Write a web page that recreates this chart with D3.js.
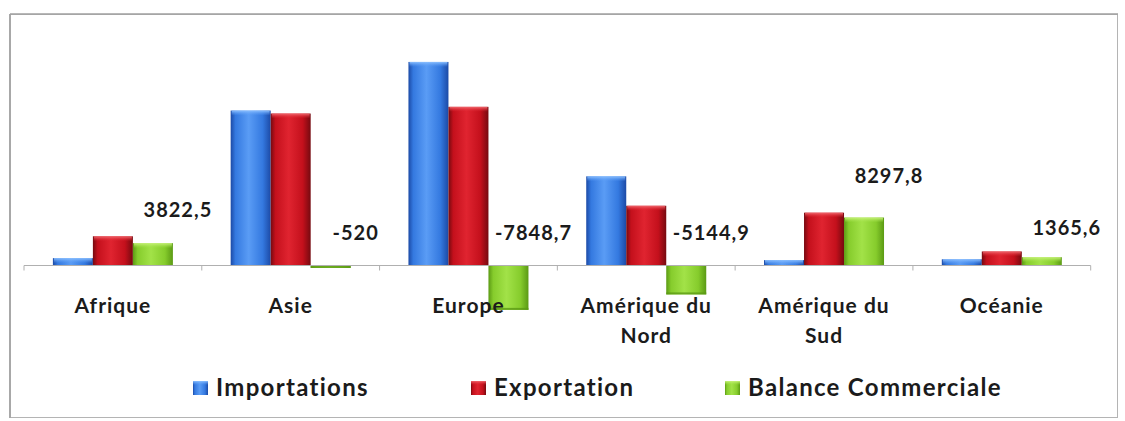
<!DOCTYPE html>
<html>
<head>
<meta charset="utf-8">
<script src="https://cdn.jsdelivr.net/npm/d3@7"></script>
<style>
  html, body { margin: 0; padding: 0; background: #fff; }
  svg { display: block; }
  text { font-family: Lato, "Open Sans", "DejaVu Sans", sans-serif; fill: #1b1b1b; }
</style>
</head>
<body>
<svg id="chart" width="1125" height="421"></svg>
<script>
// Regions and trade flows
const categories = ["Afrique", "Asie", "Europe", "Amérique du Nord", "Amérique du Sud", "Océanie"];
const categoryLines = [["Afrique"], ["Asie"], ["Europe"], ["Amérique du", "Nord"], ["Amérique du", "Sud"], ["Océanie"]];
const seriesNames = ["Importations", "Exportation", "Balance Commerciale"];
const importations = [1200, 27000, 35500, 15500, 850, 1000];
const exportation = [5022.5, 26480, 27651.3, 10355.1, 9147.8, 2365.6];
const balance = [3822.5, -520, -7848.7, -5144.9, 8297.8, 1365.6];
const balanceLabels = ["3822,5", "-520", "-7848,7", "-5144,9", "8297,8", "1365,6"];

const series = [importations, exportation, balance];

const svg = d3.select("#chart");

// colour ramps: edge, body, highlight, cap
const palette = [
  { edge: "#1c4aa6", body: "#3479e0", light: "#5a9cf5", cap: "#8cc0ff" },
  { edge: "#760a10", body: "#c4101c", light: "#e02430", cap: "#f06a70" },
  { edge: "#5b9a14", body: "#86cc2c", light: "#a2e248", cap: "#c8f27c" }
];

const defs = svg.append("defs");
palette.forEach((p, i) => {
  const g = defs.append("linearGradient").attr("id", "bar" + i)
    .attr("x1", "0%").attr("x2", "100%").attr("y1", "0%").attr("y2", "0%");
  g.append("stop").attr("offset", "0%").attr("stop-color", p.edge);
  g.append("stop").attr("offset", "12%").attr("stop-color", p.body);
  g.append("stop").attr("offset", "45%").attr("stop-color", p.light);
  g.append("stop").attr("offset", "80%").attr("stop-color", p.body);
  g.append("stop").attr("offset", "100%").attr("stop-color", p.edge);
  const c = defs.append("linearGradient").attr("id", "cap" + i)
    .attr("x1", "0%").attr("x2", "0%").attr("y1", "0%").attr("y2", "100%");
  c.append("stop").attr("offset", "0%").attr("stop-color", p.cap);
  c.append("stop").attr("offset", "100%").attr("stop-color", p.light).attr("stop-opacity", 0);
});

// chart frame
svg.append("rect").attr("x", 10.5).attr("y", 14.5).attr("width", 1107).attr("height", 403)
  .attr("fill", "#fff").attr("stroke", "#b4b4b4").attr("stroke-width", 1);
svg.append("line").attr("x1", 10).attr("x2", 10).attr("y1", 14).attr("y2", 418)
  .attr("stroke", "#a8a8a8").attr("stroke-width", 2);
svg.append("line").attr("x1", 10).attr("x2", 1118).attr("y1", 14).attr("y2", 14)
  .attr("stroke", "#a0a0a0").attr("stroke-width", 1.5);

// scales
const xEnd = 1090.7;
const x0 = d3.scaleBand().domain(categories).range([24, xEnd])
  .paddingInner(0.325).paddingOuter(0.1625);
const x1 = d3.scaleBand().domain(seriesNames).range([0, x0.bandwidth()]).padding(0);
const y = d3.scaleLinear().domain([-10000, 40000]).range([322.2, 36.2]);
const y0 = y(0);

// bars
const plot = svg.append("g");
series.forEach((vals, si) => {
  const g = plot.append("g");
  vals.forEach((v, ci) => {
    const bx = x0(categories[ci]) + x1(seriesNames[si]);
    const bw = x1.bandwidth();
    const top = Math.min(y(v), y0);
    const h = Math.max(Math.abs(y(v) - y0), 1.5);
    g.append("rect").attr("x", bx).attr("y", top).attr("width", bw).attr("height", h)
      .attr("fill", `url(#bar${si})`);
    if (v > 0 && h > 4) {
      g.append("rect").attr("x", bx + 1).attr("y", top).attr("width", bw - 2)
        .attr("height", Math.min(5, h)).attr("fill", `url(#cap${si})`);
    }
    if (v < 0) {
      g.append("rect").attr("x", bx).attr("y", top + h - 2).attr("width", bw)
        .attr("height", 2).attr("fill", palette[si].edge).attr("opacity", 0.8);
    }
  });
});

// category axis
const axis = d3.axisBottom(x0).tickSize(0).tickFormat("");
const ax = svg.append("g").attr("transform", `translate(0,${y0 + 0.5})`).call(axis);
ax.select(".domain").attr("stroke", "#b0b0b0").attr("stroke-width", 1)
  .attr("d", `M24,0H${xEnd}`);
const bounds = categories.map(c => x0(c) - x0.step() * x0.paddingInner() / 2)
  .concat([xEnd]);
ax.selectAll(".bound").data(bounds).enter().append("line")
  .attr("x1", d => d).attr("x2", d => d).attr("y1", 0).attr("y2", 5)
  .attr("stroke", "#b0b0b0");

// category labels
categories.forEach((c, i) => {
  const cx = x0(c) + x0.bandwidth() / 2;
  const t = svg.append("text").attr("text-anchor", "middle")
    .attr("font-size", 21).attr("font-weight", "bold").attr("letter-spacing", 1);
  categoryLines[i].forEach((ln, li) => {
    t.append("tspan").attr("x", cx).attr("y", 313 + li * 30).text(ln);
  });
});

// data labels for the trade balance, set off above and to the right of each bar
balance.forEach((v, ci) => {
  const bx = x0(categories[ci]) + x1(seriesNames[2]) + x1.bandwidth() / 2;
  const ly = v >= 0 ? y(v) - 20 - v * 0.0017 : y0 - 25;
  svg.append("text").attr("x", bx + 25).attr("y", ly)
    .attr("text-anchor", "middle").attr("font-size", 20).attr("font-weight", "bold")
    .attr("letter-spacing", 1).text(balanceLabels[ci]);
});

// legend
const legendX = [193, 471, 725];
const lg = svg.append("g");
seriesNames.forEach((n, i) => {
  const g = lg.append("g").attr("transform", `translate(${legendX[i]},381)`);
  g.append("rect").attr("width", 15).attr("height", 14).attr("fill", `url(#bar${i})`);
  g.append("rect").attr("width", 15).attr("height", 4).attr("fill", `url(#cap${i})`);
  g.append("text").attr("x", 23).attr("y", 15).attr("font-size", 24)
    .attr("font-weight", "bold").attr("letter-spacing", 1.3).text(n);
});
</script>
</body>
</html>
